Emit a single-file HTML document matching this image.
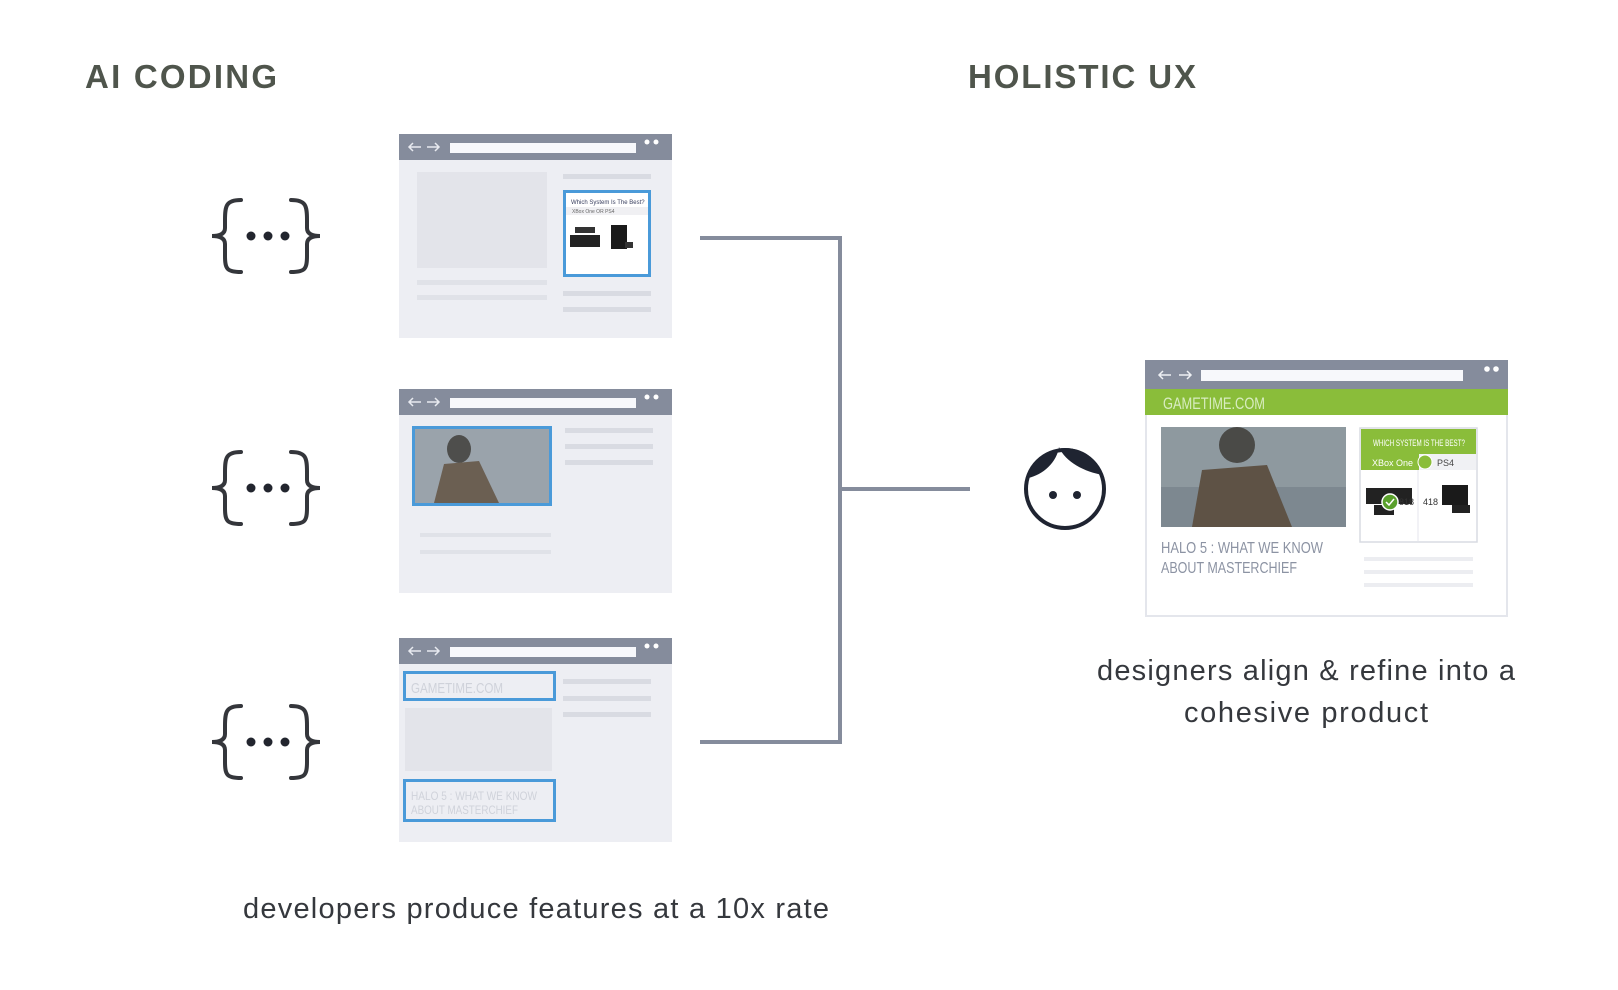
<!DOCTYPE html>
<html><head><meta charset="utf-8"><style>
html,body{margin:0;padding:0;background:#fff;}
svg{display:block;}
text{font-family:"Liberation Sans",sans-serif;}
</style></head><body>
<svg width="1618" height="990" viewBox="0 0 1618 990" xmlns="http://www.w3.org/2000/svg">
<defs>
<g id="brace" fill="none" stroke="#34363b" stroke-width="4" stroke-linecap="round">
  <path d="M241,200 C226,200 225,206 225,220 L225,228 C225,233 221,236 212,236 C221,236 225,239 225,244 L225,256 C225,269 227,272 241,272"/>
  <path d="M291,200 C306,200 307,206 307,220 L307,228 C307,233 311,236 320,236 C311,236 307,239 307,244 L307,256 C307,269 305,272 291,272"/>
  <circle cx="251" cy="236" r="4.5" fill="#22252e" stroke="none"/>
  <circle cx="268" cy="236" r="4.5" fill="#22252e" stroke="none"/>
  <circle cx="285" cy="236" r="4.5" fill="#22252e" stroke="none"/>
</g>
<g id="chrome">
  <rect x="0" y="0" width="273" height="204" fill="#edeef3"/>
  <rect x="0" y="0" width="273" height="26" fill="#858c9c"/>
  <path d="M10,13 H22 M14,9 L10,13 L14,17 M28,13 H40 M36,9 L40,13 L36,17" stroke="#e8eaf0" stroke-width="1.5" fill="none"/>
  <rect x="51" y="9" width="186" height="10" fill="#f7f8fb"/>
  <circle cx="248" cy="8" r="2.5" fill="#fff"/><circle cx="257" cy="8" r="2.5" fill="#fff"/>
</g>
</defs>

<text x="85" y="88" font-size="33" font-weight="bold" fill="#4f554c" textLength="192">AI CODING</text>
<text x="968" y="88" font-size="33" font-weight="bold" fill="#4f554c" textLength="228">HOLISTIC UX</text>

<use href="#brace"/>
<use href="#brace" transform="translate(0,252)"/>
<use href="#brace" transform="translate(0,506)"/>

<!-- browser 1 -->
<g transform="translate(399,134)">
  <use href="#chrome"/>
  <rect x="18" y="38" width="130" height="96" fill="#e3e4ea"/>
  <rect x="18" y="146" width="130" height="5" fill="#e0e2e8"/>
  <rect x="18" y="161" width="130" height="5" fill="#e0e2e8"/>
  <rect x="164" y="40" width="88" height="5" fill="#d9dbe2"/>
  <rect x="164" y="157" width="88" height="5" fill="#d9dbe2"/>
  <rect x="164" y="173" width="88" height="5" fill="#d9dbe2"/>
  <rect x="165.5" y="57.5" width="85" height="84" fill="#fff" stroke="#4a9ad9" stroke-width="3"/>
  <text x="172" y="70" font-size="6" fill="#3a4060">Which System Is The Best?</text>
  <rect x="167" y="73" width="82" height="8" fill="#f0f0f3"/>
  <text x="173" y="79" font-size="5" fill="#666">XBox One   OR    PS4</text>
  <rect x="171" y="101" width="30" height="12" fill="#222"/><rect x="176" y="93" width="20" height="6" fill="#333"/>
  <rect x="212" y="91" width="16" height="24" fill="#1a1a1a"/><rect x="226" y="108" width="8" height="6" fill="#333"/>
</g>

<!-- browser 2 -->
<g transform="translate(399,389)">
  <use href="#chrome"/>
  <rect x="14.5" y="38.5" width="137" height="77" fill="#8f9aa4" stroke="#4a9ad9" stroke-width="3"/>
  <rect x="16" y="40" width="134" height="74" fill="#9aa3ab"/>
  <ellipse cx="60" cy="60" rx="12" ry="14" fill="#4e4e4c"/>
  <path d="M35,114 L45,75 L80,72 L100,114 Z" fill="#6b5f52"/>
  <rect x="166" y="39" width="88" height="5" fill="#d9dbe2"/>
  <rect x="166" y="55" width="88" height="5" fill="#d9dbe2"/>
  <rect x="166" y="71" width="88" height="5" fill="#d9dbe2"/>
  <rect x="21" y="144" width="131" height="4" fill="#e0e2e8"/>
  <rect x="21" y="161" width="131" height="4" fill="#e0e2e8"/>
</g>

<!-- browser 3 -->
<g transform="translate(399,638)">
  <use href="#chrome"/>
  <rect x="5.5" y="34.5" width="150" height="27" fill="none" stroke="#4a9ad9" stroke-width="3"/>
  <text x="12" y="55" font-size="15" fill="#cfd2da" textLength="92" lengthAdjust="spacingAndGlyphs">GAMETIME.COM</text>
  <rect x="6" y="70" width="147" height="63" fill="#e3e4ea"/>
  <rect x="5.5" y="142.5" width="150" height="40" fill="none" stroke="#4a9ad9" stroke-width="3"/>
  <text x="12" y="162" font-size="12" fill="#cfd2da" textLength="126" lengthAdjust="spacingAndGlyphs">HALO 5 : WHAT WE KNOW</text>
  <text x="12" y="176" font-size="12" fill="#cfd2da" textLength="107" lengthAdjust="spacingAndGlyphs">ABOUT MASTERCHIEF</text>
  <rect x="164" y="41" width="88" height="5" fill="#d9dbe2"/>
  <rect x="164" y="58" width="88" height="5" fill="#d9dbe2"/>
  <rect x="164" y="74" width="88" height="5" fill="#d9dbe2"/>
</g>

<!-- connectors -->
<path d="M700,238 H840 V742 H700 M840,489 H970" fill="none" stroke="#858c9c" stroke-width="4"/>

<!-- face -->
<circle cx="1065" cy="489" r="39" fill="#fff" stroke="#1f2431" stroke-width="4"/>
<path d="M1028,478 A39,39 0 0 1 1103,475 C1085,472 1065,462 1059,447 C1057,462 1043,475 1028,478 Z" fill="#1f2431"/>
<circle cx="1053" cy="495" r="4" fill="#1f2431"/>
<circle cx="1077" cy="495" r="4" fill="#1f2431"/>

<!-- big browser -->
<g transform="translate(-3,0)">
  <rect x="1149" y="361" width="361" height="255" fill="#fff" stroke="#e4e6ec" stroke-width="2"/>
  <rect x="1148" y="360" width="363" height="29" fill="#858c9c"/>
  <path d="M1162,375 H1174 M1166,371 L1162,375 L1166,379 M1182,375 H1194 M1190,371 L1194,375 L1190,379" stroke="#eef0f4" stroke-width="1.5" fill="none"/>
  <rect x="1204" y="370" width="262" height="11" fill="#f7f8fb"/>
  <circle cx="1490" cy="369" r="2.8" fill="#fff"/><circle cx="1499" cy="369" r="2.8" fill="#fff"/>
  <rect x="1148" y="389" width="363" height="26" fill="#8abd3a"/>
  <text x="1166" y="409" font-size="17" fill="#d8ecc0" textLength="102" lengthAdjust="spacingAndGlyphs">GAMETIME.COM</text>
  <rect x="1164" y="427" width="185" height="100" fill="#7d8890"/>
  <rect x="1164" y="427" width="185" height="60" fill="#8e999f"/>
  <ellipse cx="1240" cy="445" rx="18" ry="18" fill="#4a4a47"/>
  <path d="M1195,527 L1205,470 L1270,465 L1295,527 Z" fill="#5e5245"/>
  <text x="1164" y="553" font-size="16" fill="#8c93a3" textLength="162" lengthAdjust="spacingAndGlyphs">HALO 5 : WHAT WE KNOW</text>
  <text x="1164" y="573" font-size="16" fill="#8c93a3" textLength="136" lengthAdjust="spacingAndGlyphs">ABOUT MASTERCHIEF</text>
  <rect x="1363" y="428" width="117" height="114" fill="#fff" stroke="#d8dbe2" stroke-width="1.5"/>
  <rect x="1364" y="429" width="115" height="25" fill="#8abd3a"/>
  <text x="1376" y="446" font-size="9" fill="#fff" textLength="92" lengthAdjust="spacingAndGlyphs">WHICH SYSTEM IS THE BEST?</text>
  <rect x="1364" y="454" width="115" height="16" fill="#f0f1f4"/>
  <rect x="1364" y="454" width="58" height="16" fill="#8abd3a"/>
  <text x="1375" y="466" font-size="9" fill="#fff">XBox One</text>
  <circle cx="1428" cy="462" r="7" fill="#8abd3a" stroke="#fff" stroke-width="1"/>
  <text x="1440" y="466" font-size="9" fill="#444">PS4</text>
  <line x1="1421" y1="470" x2="1421" y2="541" stroke="#e4e6ec"/>
  <rect x="1369" y="488" width="46" height="16" fill="#222"/>
  <rect x="1377" y="505" width="20" height="10" fill="#222"/>
  <circle cx="1393" cy="502" r="8" fill="#5aa02c" stroke="#fff" stroke-width="1.5"/>
  <path d="M1389,502 L1392,505 L1397,499" stroke="#fff" stroke-width="1.5" fill="none"/>
  <text x="1402" y="505" font-size="9" fill="#333">818</text>
  <text x="1426" y="505" font-size="9" fill="#333">418</text>
  <rect x="1445" y="485" width="26" height="20" fill="#1a1a1a"/>
  <rect x="1455" y="505" width="18" height="8" fill="#222"/>
  <rect x="1367" y="557" width="109" height="4" fill="#ecedf1"/>
  <rect x="1367" y="570" width="109" height="4" fill="#ecedf1"/>
  <rect x="1367" y="583" width="109" height="4" fill="#ecedf1"/>
</g>

<text x="1306" y="680" font-size="29" fill="#35383d" text-anchor="middle" textLength="418">designers align &amp; refine into a</text>
<text x="1306" y="722" font-size="29" fill="#35383d" text-anchor="middle" textLength="244">cohesive product</text>
<text x="243" y="918" font-size="29" fill="#35383d" textLength="586">developers produce features at a 10x rate</text>
</svg>
</body></html>
